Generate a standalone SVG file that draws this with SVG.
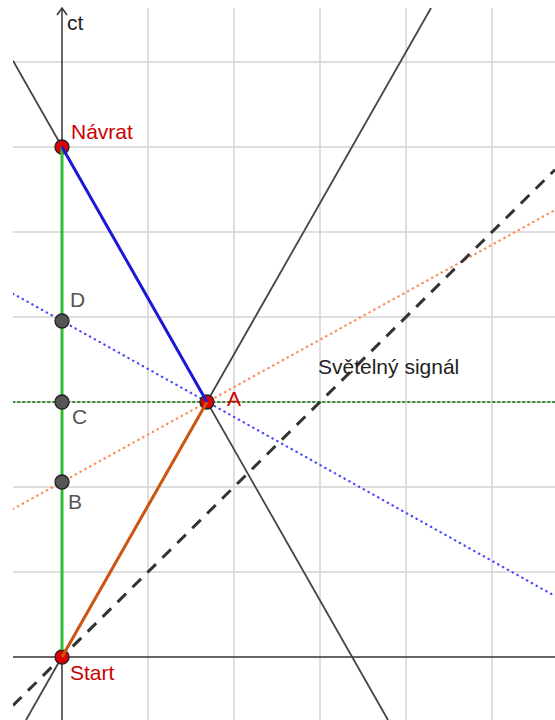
<svg xmlns="http://www.w3.org/2000/svg" width="555" height="720" viewBox="0 0 555 720">
<style>
.grid{stroke:#d3d3d3;stroke-width:1.5;fill:none}
.axis{stroke:#333;stroke-width:1.5;fill:none}
.bl{stroke:#444;stroke-width:1.8;fill:none}
.lbl{font-family:"Liberation Sans",Arial,sans-serif;font-size:21px}
.red{fill:#cc0000}
.gray{fill:#555}
.pr{fill:#dd0000;stroke:#222;stroke-width:1.3}
.pg{fill:#555;stroke:#222;stroke-width:1.3}
</style>
<defs>
<clipPath id="view"><rect x="13" y="8" width="542" height="712"/></clipPath>
</defs>
<rect width="555" height="720" fill="#fff"/>
<g id="grid" class="grid">
<path d="M148 8V720M234 8V720M320 8V720M406 8V720M492 8V720"/>
<path d="M13 62H555M13 147H555M13 232H555M13 317H555M13 402H555M13 487H555M13 572H555"/>
</g>
<g id="axes" class="axis">
<path d="M13 657H555"/>
<path d="M62 720V8"/>
<path d="M57 15L62 8L67 15"/>
</g>
<g id="connectors" clip-path="url(#view)">
<path d="M13 402H555" stroke="#3a8a3a" stroke-width="2.2" stroke-dasharray="1.5 3.5" stroke-linecap="round"/>
<path d="M13 509L555 210" stroke="#ff8855" stroke-width="2.2" stroke-dasharray="0.5 5" stroke-linecap="round"/>
<path d="M13 293.6L555 596" stroke="#4a4aff" stroke-width="2.2" stroke-dasharray="0.5 5" stroke-linecap="round"/>
<path class="bl" d="M13 60.8L388 720"/>
<path class="bl" d="M26 720L431 8"/>
<path d="M13 705.4L555 169.7" stroke="#333" stroke-width="3" stroke-dasharray="12 9"/>
</g>
<g id="navrat"><circle class="pr" cx="62" cy="147" r="7"/><text class="lbl red" x="71" y="139">Návrat</text></g>
<g id="A"><circle class="pr" cx="207" cy="402" r="7"/><text class="lbl red" x="227" y="406">A</text></g>
<g id="start"><circle class="pr" cx="62" cy="657" r="7"/><text class="lbl red" x="70" y="680">Start</text></g>
<g id="segments">
<path d="M62 650V147" stroke="#33bb33" stroke-width="3"/>
<path d="M62 147L207 402" stroke="#1a1ad6" stroke-width="3"/>
<path d="M62 657L207 402" stroke="#cc5511" stroke-width="3"/>
</g>
<g id="D"><circle class="pg" cx="62" cy="321" r="7"/><text class="lbl gray" x="70" y="307">D</text></g>
<g id="C"><circle class="pg" cx="62" cy="402" r="7"/><text class="lbl gray" x="72" y="424">C</text></g>
<g id="B"><circle class="pg" cx="62" cy="482" r="7"/><text class="lbl gray" x="68" y="509">B</text></g>
<g id="ct-label"><text class="lbl" x="67" y="30" fill="#222">ct</text></g>
<g id="signal"><text class="lbl" x="318" y="374" fill="#222">Světelný signál</text></g>
</svg>
